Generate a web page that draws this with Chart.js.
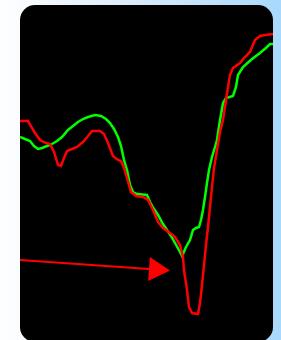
<!DOCTYPE html>
<html>
<head>
<meta charset="utf-8">
<script src="https://cdn.jsdelivr.net/npm/chart.js@4/dist/chart.umd.min.js"></script>
<style>
  html, body { margin: 0; padding: 0; }
  body {
    width: 281px; height: 340px; overflow: hidden;
    background: linear-gradient(to right, #ffffff 0%, #dcecfb 45%, #a8d8fb 100%);
  }
  #panel {
    position: absolute; left: 20px; top: 5px; width: 253px; height: 337px;
    background: #000; border-radius: 15px; overflow: hidden;
  }
</style>
</head>
<body>
<div id="panel"><canvas id="chart" width="253" height="337"></canvas></div>
<script>
// sample index and signal level for each trace
const redTime = [0, 8, 15, 20, 26, 30, 34, 38, 41, 44, 47, 52, 57, 63, 68, 72, 80, 84, 88, 93, 98, 101, 104, 107, 111, 116, 123, 128, 133, 138, 143, 150, 155, 160, 163, 164, 167, 169, 172, 178, 180, 182, 184, 186, 188, 190, 192, 194, 197, 200, 203, 205, 208, 210, 213, 220, 225, 230, 235, 240, 245, 253];
const redLevel = [219, 219, 207, 200, 197, 196, 188, 175, 174, 182, 189, 191, 193, 198, 204, 209, 209, 206, 197, 184, 180, 179, 172, 162, 148, 144, 143, 140, 130, 118, 112, 107, 103, 95, 83, 70, 50, 33, 27, 26, 37, 55, 75, 95, 113, 133, 153, 172, 190, 208, 220, 233, 253, 265, 272, 277, 283, 288, 300, 304, 305, 306];

const greenTime = [0, 5, 10, 14, 18, 22, 27, 32, 37, 42, 48, 53, 58, 63, 68, 75, 81, 86, 90, 94, 98, 101, 104, 107, 110, 113, 117, 127, 130, 134, 138, 143, 147, 151, 155, 160, 162, 163, 166, 170, 173, 176, 179, 181, 183, 185, 187, 189, 192, 195, 197, 200, 203, 206, 213, 216, 218, 223, 232, 240, 247, 250, 253];
const greenLevel = [203, 201, 199, 194, 191, 192, 194, 196, 199, 203, 210, 214, 218, 221, 223, 225, 224, 221, 217, 211, 203, 194, 180, 170, 155, 148, 146, 145, 138, 131, 125, 116, 110, 104, 97, 88, 84, 86, 93, 100, 110, 112, 113, 120, 130, 143, 157, 170, 183, 193, 200, 220, 237, 242, 244, 253, 265, 273, 281, 287, 293, 296, 296];

// pointer arrow
const arrowTime = [0, 136];
const arrowLevel = [80, 70.5];

const toPoints = (xs, ys) => xs.map((x, i) => ({ x, y: ys[i] }));

new Chart(document.getElementById("chart"), {
  type: "line",
  data: {
    datasets: [
      {
        data: toPoints(redTime, redLevel),
        borderColor: "#ff0000",
        borderWidth: 2.5,
        pointRadius: 0,
        tension: 0
      },
      {
        data: toPoints(greenTime, greenLevel),
        borderColor: "#00ff00",
        borderWidth: 2.5,
        pointRadius: 0,
        tension: 0
      },
      {
        data: toPoints(arrowTime, arrowLevel),
        borderColor: "#ff0000",
        backgroundColor: "#ff0000",
        borderWidth: 2,
        pointStyle: "triangle",
        pointRadius: [0, 14],
        pointRotation: 94,
        pointBorderWidth: 0,
        tension: 0
      }
    ]
  },
  options: {
    responsive: false,
    animation: false,
    layout: { padding: 0, autoPadding: false },
    plugins: { legend: { display: false }, tooltip: { enabled: false } },
    scales: {
      x: { type: "linear", min: 0, max: 253, display: false },
      y: { min: -2, max: 335, display: false }
    }
  }
});
</script>
</body>
</html>
